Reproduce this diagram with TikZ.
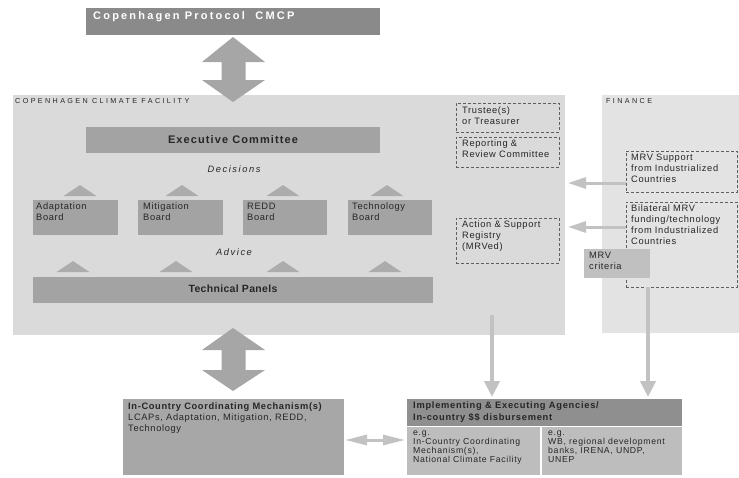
\documentclass[tikz,border=0pt]{standalone}
\usepackage{fontspec}
\setmainfont{Liberation Sans}
\usetikzlibrary{arrows.meta}
\definecolor{titlec}{HTML}{8A8A8A}
\definecolor{ccfc}{HTML}{DADADA}
\definecolor{finc}{HTML}{E3E3E3}
\definecolor{boxc}{HTML}{A3A3A3}
\definecolor{arrc}{HTML}{A6A6A6}
\definecolor{tric}{HTML}{ACACAC}
\definecolor{lightc}{HTML}{C2C2C2}
\definecolor{critc}{HTML}{C0C0C0}
\definecolor{inc}{HTML}{A7A7A7}
\definecolor{hdrc}{HTML}{8F8F8F}
\definecolor{cellc}{HTML}{BDBDBD}
\definecolor{txtc}{HTML}{262626}
\definecolor{dashc}{HTML}{5E5E5E}
\begin{document}
\begin{tikzpicture}[x=1pt,y=-1pt,
  rbox/.style={rectangle, inner sep=0pt, outer sep=0pt, anchor=north west, draw=none},
  dbox/.style={rbox, draw=dashc, line width=0.7pt, dash pattern=on 3pt off 2pt},
  txt/.style={anchor=north west, inner sep=0pt, align=left, text=txtc,
    font=\fontsize{9.3}{11}\selectfont\addfontfeature{LetterSpace=7}},
  ctxt/.style={txt, font=\fontsize{8.7}{9}\selectfont\addfontfeature{LetterSpace=8}},
  btxt/.style={txt, font=\fontsize{9.3}{11.5}\selectfont\bfseries\addfontfeature{LetterSpace=8}},
  headtxt/.style={anchor=center, inner sep=0pt, text=txtc},
  captxt/.style={anchor=north west, inner sep=0pt, text=txtc,
    font=\fontsize{7.2}{8}\selectfont\addfontfeature{LetterSpace=33}},
  ittxt/.style={anchor=center, inner sep=0pt, text=txtc,
    font=\fontsize{9.3}{11}\selectfont\itshape\addfontfeature{LetterSpace=17}},
  tri/.style={fill=tric, draw=none},
  bigarr/.style={fill=arrc, draw=none},
  harrow/.style={draw=lightc, line width=3pt, -{Triangle[length=18pt,width=11pt]}},
  varrow/.style={draw=lightc, line width=4pt, -{Triangle[length=16pt,width=15pt]}},
  dblarrow/.style={draw=lightc, line width=3pt, {Triangle[length=22pt,width=10pt]}-{Triangle[length=22pt,width=10pt]}},
]
\useasboundingbox (0,0) rectangle (739,477);

% background regions
\node[rbox, fill=ccfc, minimum width=552pt, minimum height=240pt] (ccf) at (13,95) {};
\node[rbox, fill=finc, minimum width=137pt, minimum height=238pt] (fin) at (602,95) {};
\node[captxt] (ccflab) at (15,98) {COPENHAGEN CLIMATE FACILITY};
\node[captxt] (finlab) at (606,98) {FINANCE};

% title
\node[rbox, fill=titlec, minimum width=294pt, minimum height=27pt] (title) at (86,8) {};
\node[anchor=north west, inner sep=0pt, text=white,
  font=\fontsize{11}{13}\selectfont\bfseries\addfontfeature{LetterSpace=20}] (titletxt) at (93,11.5) {Copenhagen Protocol\ \ CMCP};

% upper big double arrow
\fill[bigarr] (233,37) -- (265,62) -- (245.5,62) -- (245.5,80) -- (265,80) -- (233,102)
  -- (202,80) -- (221.5,80) -- (221.5,62) -- (202,62) -- cycle;

% executive committee
\node[rbox, fill=boxc, minimum width=294pt, minimum height=26pt] (exec) at (86,127) {};
\node[headtxt, font=\fontsize{11}{13}\selectfont\bfseries\addfontfeature{LetterSpace=10}] (exectxt) at (exec.center) {Executive Committee};

\node[ittxt] (dec) at (234,169) {Decisions};

% decision triangles
\foreach \cx in {80,182,283,387}{
  \fill[tri] (\cx-16.5,196) -- (\cx,185) -- (\cx+16.5,196) -- cycle;
}

% boards
\node[rbox, fill=boxc, minimum width=85pt, minimum height=35pt] (adapt) at (33,200) {};
\node[rbox, fill=boxc, minimum width=85pt, minimum height=35pt] (mitig) at (138,200) {};
\node[rbox, fill=boxc, minimum width=84pt, minimum height=35pt] (redd) at (243,200) {};
\node[rbox, fill=boxc, minimum width=84pt, minimum height=35pt] (techb) at (348,200) {};
\node[txt] (adapttxt) at (36,203) {Adaptation\\Board};
\node[txt] (mitigtxt) at (143,203) {Mitigation\\Board};
\node[txt] (reddtxt) at (247,203) {REDD\\Board};
\node[txt] (techbtxt) at (352,203) {Technology\\Board};

\node[ittxt] (adv) at (234,252) {Advice};

% advice triangles
\foreach \cx in {73,176,283,385}{
  \fill[tri] (\cx-16.5,272) -- (\cx,261) -- (\cx+16.5,272) -- cycle;
}

% technical panels
\node[rbox, fill=boxc, minimum width=400pt, minimum height=26pt] (tech) at (33,277) {};
\node[headtxt, font=\fontsize{10.5}{12}\selectfont\bfseries\addfontfeature{LetterSpace=3}] (techtxt) at (233,289) {Technical Panels};

% dashed boxes in CCF
\node[dbox, minimum width=103pt, minimum height=29pt] (trustee) at (456,103) {};
\node[txt] (trusteetxt) at (462,107) {Trustee(s)\\or Treasurer};
\node[dbox, minimum width=103pt, minimum height=30pt] (report) at (456,137) {};
\node[txt] (reporttxt) at (462,140) {Reporting \&\\Review Committee};
\node[dbox, minimum width=103pt, minimum height=45pt] (action) at (456,218) {};
\node[txt] (actiontxt) at (462,221) {Action \& Support\\Registry\\(MRVed)};

% finance dashed boxes
\node[dbox, minimum width=111pt, minimum height=41pt] (mrvsup) at (626,151) {};
\node[txt] (mrvsuptxt) at (631,154) {MRV Support\\from Industrialized\\Countries};
\node[dbox, minimum width=111pt, minimum height=85pt] (bil) at (626,202) {};
\node[txt] (biltxt) at (631,205) {Bilateral MRV\\funding/technology\\from Industrialized\\Countries};

% MRV criteria
\node[rbox, fill=critc, minimum width=66pt, minimum height=29pt] (crit) at (584,249) {};
\node[txt] (crittxt) at (589,252) {MRV\\criteria};

% lower big double arrow
\fill[bigarr] (233,328) -- (265,350) -- (245.5,350) -- (245.5,370) -- (265,370) -- (233,391)
  -- (202,370) -- (221.5,370) -- (221.5,350) -- (202,350) -- cycle;

% in-country box
\node[rbox, fill=inc, minimum width=221pt, minimum height=76pt] (incountry) at (123,399) {};
\node[txt] (incountrytxt) at (128,403) {\textbf{In-Country Coordinating Mechanism(s)}\\LCAPs, Adaptation, Mitigation, REDD,\\Technology};

% implementing
\node[rbox, fill=hdrc, minimum width=275pt, minimum height=27pt] (impl) at (407,399) {};
\node[btxt] (impltxt) at (413,402) {Implementing \& Executing Agencies/\\In-country \$\$ disbursement};
\node[rbox, fill=cellc, minimum width=133pt, minimum height=48pt] (cellL) at (407,427) {};
\node[rbox, fill=cellc, minimum width=140pt, minimum height=48pt] (cellR) at (542,427) {};
\node[ctxt] (cellLtxt) at (413,430.5) {e.g.\\In-Country Coordinating\\Mechanism(s),\\National Climate Facility};
\node[ctxt] (cellRtxt) at (548,430.5) {e.g.\\WB, regional development\\banks, IRENA, UNDP,\\UNEP};

% light arrows
\coordinate (h1end) at (568,183);
\coordinate (h2end) at (568,227);
\draw[harrow] ([yshift=-11.5pt]mrvsup.west) -- (h1end);
\draw[harrow] ([yshift=17.5pt]bil.west) -- (h2end);
\coordinate (v1) at (492,315);
\coordinate (v2) at (648,287);
\draw[varrow] (v1) -- ([yshift=2pt]v1 |- impl.north);
\draw[varrow] (v2) -- ([yshift=2pt]v2 |- impl.north);
\coordinate (d1) at (345,440);
\draw[dblarrow] (d1) -- ([xshift=-2pt]d1 -| cellL.west);
\end{tikzpicture}
\end{document}
